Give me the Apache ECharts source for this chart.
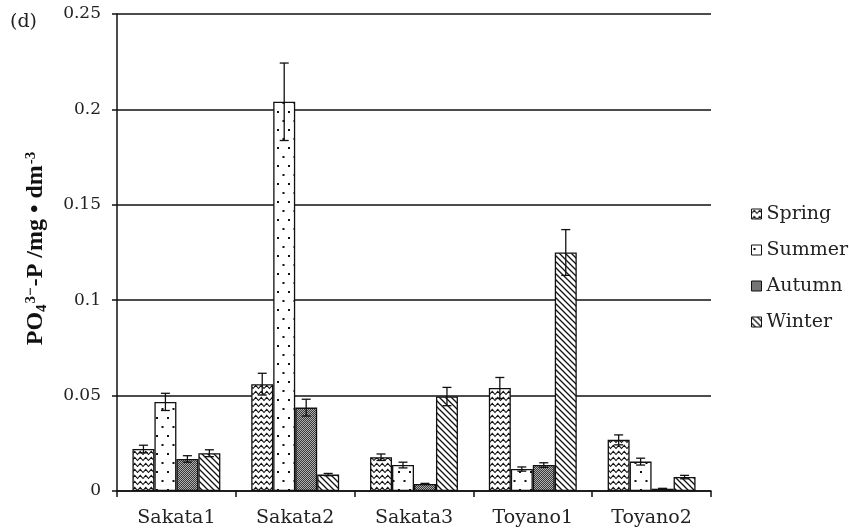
<!DOCTYPE html>
<html>
<head>
<meta charset="utf-8">
<script src="https://cdn.jsdelivr.net/npm/echarts@6/dist/echarts.min.js"></script>
<style>
  html, body { margin: 0; padding: 0; background: #fff; }
  #chart { width: 849px; height: 531px; }
</style>
</head>
<body>
<div id="chart"></div>
<script>
// Sampling sites
const sites = ['Sakata1', 'Sakata2', 'Sakata3', 'Toyano1', 'Toyano2'];
const seasons = ['Spring', 'Summer', 'Autumn', 'Winter'];

// Mean PO4-P (mg/dm3) per season
const springMean = [0.022, 0.056, 0.0177, 0.054, 0.0268];
const summerMean = [0.0467, 0.204, 0.0136, 0.0115, 0.0154];
const autumnMean = [0.0168, 0.0437, 0.0037, 0.0136, 0.0012];
const winterMean = [0.0198, 0.0086, 0.0495, 0.125, 0.0073];

// Error bar half-widths
const springErr = [0.002, 0.0057, 0.0017, 0.0055, 0.0026];
const summerErr = [0.0045, 0.0203, 0.0015, 0.0011, 0.0018];
const autumnErr = [0.0017, 0.0044, 0.0003, 0.0012, 0.0002];
const winterErr = [0.0018, 0.0006, 0.0048, 0.012, 0.0009];

// Y axis ticks
const yTicks = { min: 0, max: 0.25, interval: 0.05 };

const means = [springMean, summerMean, autumnMean, winterMean];
const errs = [springErr, summerErr, autumnErr, winterErr];

// ---- fill patterns -------------------------------------------------
function tile(w, h, draw) {
  const c = document.createElement('canvas');
  c.width = w; c.height = h;
  const ctx = c.getContext('2d');
  ctx.fillStyle = '#fff';
  ctx.fillRect(0, 0, w, h);
  draw(ctx, w, h);
  return c;
}
// zigzag waves
const wavePat = tile(11, 6, function (ctx) {
  ctx.strokeStyle = '#111';
  ctx.lineWidth = 1.1;
  ctx.beginPath();
  ctx.moveTo(-2.75, 1.3);
  ctx.lineTo(0, 4.5);
  ctx.lineTo(2.75, 1.3);
  ctx.lineTo(5.5, 4.5);
  ctx.lineTo(8.25, 1.3);
  ctx.lineTo(11, 4.5);
  ctx.lineTo(13.75, 1.3);
  ctx.stroke();
});
// sparse dots
const dotPat = tile(11, 18, function (ctx) {
  ctx.fillStyle = '#111';
  ctx.fillRect(2, 3, 2, 2);
  ctx.fillRect(7.5, 12, 2, 2);
});
// dense checker
const checkPat = tile(2, 2, function (ctx) {
  ctx.fillStyle = '#3a3a3a';
  ctx.fillRect(0, 0, 2, 2);
  ctx.fillStyle = '#b0b0b0';
  ctx.fillRect(0, 0, 1, 1);
  ctx.fillRect(1, 1, 1, 1);
});
// diagonal hatch
const hatchPat = tile(6, 6, function (ctx, w, h) {
  ctx.strokeStyle = '#111';
  ctx.lineWidth = 1.3;
  ctx.beginPath();
  ctx.moveTo(-1, -1); ctx.lineTo(w + 1, h + 1);
  ctx.moveTo(-1, h - 1); ctx.lineTo(1, h + 1);
  ctx.moveTo(w - 1, -1); ctx.lineTo(w + 1, 1);
  ctx.stroke();
});
const patterns = [wavePat, dotPat, checkPat, hatchPat];

const CAT_GAP = 0.26;
const serif = 'DejaVu Serif';

const barSeries = seasons.map(function (name, i) {
  return {
    name: name,
    type: 'bar',
    data: means[i],
    barGap: '0%',
    barCategoryGap: (CAT_GAP * 100) + '%',
    itemStyle: {
      color: { image: patterns[i], repeat: 'repeat' },
      borderColor: '#111',
      borderWidth: 1.3
    },
    emphasis: { disabled: true },
    z: 2
  };
});

// error bars positioned on each bar of the group
const errSeries = seasons.map(function (name, i) {
  return {
    type: 'custom',
    name: name + ' error',
    silent: true,
    z: 5,
    data: sites.map(function (s, k) { return [k, means[i][k], errs[i][k]]; }),
    renderItem: function (params, api) {
      const k = api.value(0), v = api.value(1), e = api.value(2);
      const band = api.size([1, 0])[0];
      const bw = band * (1 - CAT_GAP) / seasons.length;
      const off = (i - (seasons.length - 1) / 2) * bw;
      const hi = api.coord([k, v + e]);
      const lo = api.coord([k, v - e]);
      const x = hi[0] + off;
      const cap = 4.5;
      const st = { stroke: '#111', lineWidth: 1.3 };
      return {
        type: 'group',
        children: [
          { type: 'line', shape: { x1: x, y1: hi[1], x2: x, y2: lo[1] }, style: st },
          { type: 'line', shape: { x1: x - cap, y1: hi[1], x2: x + cap, y2: hi[1] }, style: st },
          { type: 'line', shape: { x1: x - cap, y1: lo[1], x2: x + cap, y2: lo[1] }, style: st }
        ]
      };
    }
  };
});

const chart = echarts.init(document.getElementById('chart'), null, { renderer: 'canvas' });
chart.setOption({
  animation: false,
  backgroundColor: '#fff',
  grid: { left: 117, right: 138, top: 14, bottom: 40 },
  title: {
    text: '(d)', left: 5, top: 8,
    textStyle: { fontFamily: serif, fontSize: 19, fontWeight: 'normal', color: '#222' }
  },
  legend: {
    orient: 'vertical',
    left: 751, top: 204,
    padding: 0,
    icon: 'rect',
    itemWidth: 10, itemHeight: 10,
    itemGap: 16,
    data: seasons,
    itemStyle: { borderColor: '#111', borderWidth: 1 },
    textStyle: { fontFamily: serif, fontSize: 19, color: '#222', lineHeight: 20 }
  },
  xAxis: {
    type: 'category',
    data: sites,
    axisLine: { lineStyle: { color: '#111', width: 1.5 } },
    axisTick: { show: true, length: 6, lineStyle: { color: '#111', width: 1.5 } },
    axisLabel: { fontFamily: serif, fontSize: 19, color: '#222', margin: 18 }
  },
  yAxis: {
    type: 'value',
    min: yTicks.min, max: yTicks.max, interval: yTicks.interval,
    name: '{a|PO}{sub|4}{sup|3−}{a|-P /mg • dm}{sup|-3}',
    nameLocation: 'middle',
    nameRotate: 90,
    nameGap: 60,
    nameTextStyle: {
      padding: [0, 0, 0, 9],
      rich: {
        a: { fontFamily: 'Liberation Serif', fontWeight: 'bold', fontSize: 24, color: '#111', lineHeight: 32, verticalAlign: 'middle' },
        sub: { fontFamily: 'Liberation Serif', fontWeight: 'bold', fontSize: 15, color: '#111', lineHeight: 15, verticalAlign: 'bottom', padding: [0, 0, 3, 0] },
        sup: { fontFamily: 'Liberation Serif', fontWeight: 'bold', fontSize: 15, color: '#111', lineHeight: 15, verticalAlign: 'top', padding: [3, 1, 0, 1] }
      }
    },
    axisLine: { show: true, lineStyle: { color: '#111', width: 1.5 } },
    axisTick: { show: true, length: 5, lineStyle: { color: '#111', width: 1.5 } },
    splitLine: { show: true, lineStyle: { color: '#111', width: 1.5 } },
    axisLabel: { fontFamily: serif, fontSize: 17, color: '#222', margin: 16 }
  },
  series: barSeries.concat(errSeries)
});
</script>
</body>
</html>
